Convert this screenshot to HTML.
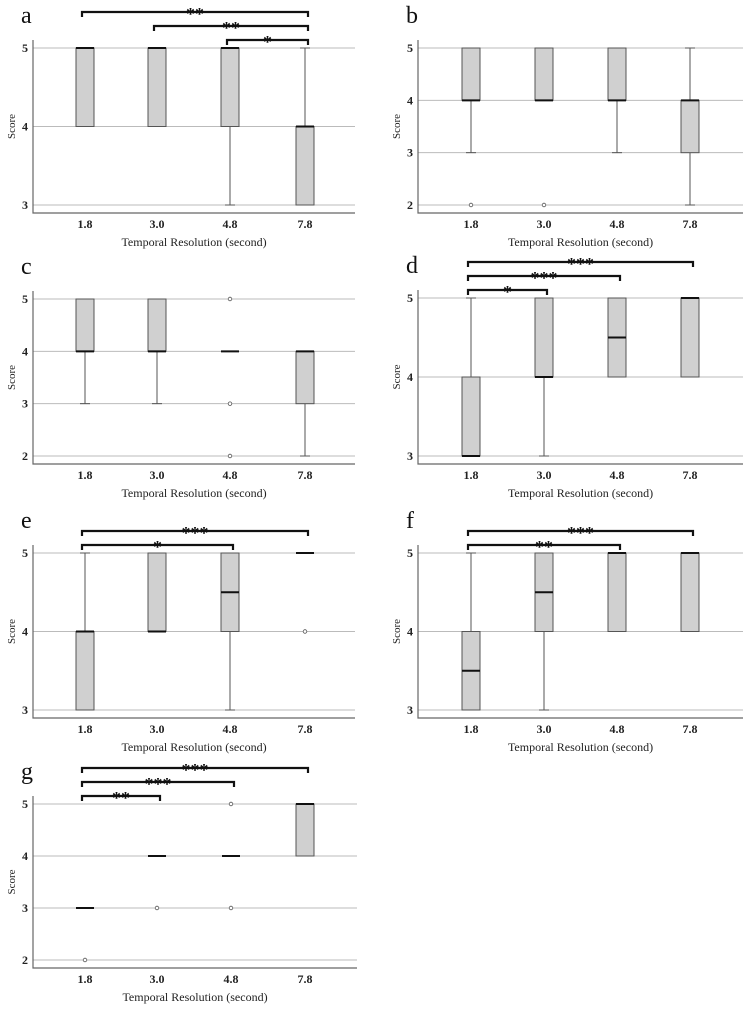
<!DOCTYPE html>
<html><head><meta charset="utf-8">
<style>
body{margin:0;background:#fff;}
svg{display:block;font-family:"Liberation Serif",serif;}
</style></head>
<body>
<svg id="chart" width="750" height="1013" viewBox="0 0 750 1013"></svg>
<script>
const categories = ["1.8","3.0","4.8","7.8"];
// each stat: [q1, median, q3, whiskerLow, whiskerHigh]
const statsA = [[4,5,5,4,5],[4,5,5,4,5],[4,5,5,3,5],[3,4,4,3,5]];
const statsB = [[4,4,5,3,5],[4,4,5,4,5],[4,4,5,3,5],[3,4,4,2,5]];
const statsC = [[4,4,5,3,5],[4,4,5,3,5],[4,4,4,4,4],[3,4,4,2,4]];
const statsD = [[3,3,4,3,5],[4,4,5,3,5],[4,4.5,5,4,5],[4,5,5,4,5]];
const statsE = [[3,4,4,3,5],[4,4,5,4,5],[4,4.5,5,3,5],[5,5,5,5,5]];
const statsF = [[3,3.5,4,3,5],[4,4.5,5,3,5],[4,5,5,4,5],[4,5,5,4,5]];
const statsG = [[3,3,3,3,3],[4,4,4,4,4],[4,4,4,4,4],[4,5,5,4,5]];
const outliersA = [[],[],[],[]];
const outliersB = [[2],[2],[],[]];
const outliersC = [[],[],[5,3,2],[]];
const outliersD = [[],[],[],[]];
const outliersE = [[],[],[],[4]];
const outliersF = [[],[],[],[]];
const outliersG = [[2],[3],[5,3],[]];
const sigA = [[0,3,"**"],[1,3,"**"],[2,3,"*"]];
const sigB = [];
const sigC = [];
const sigD = [[0,3,"***"],[0,2,"***"],[0,1,"*"]];
const sigE = [[0,3,"***"],[0,2,"*"]];
const sigF = [[0,3,"***"],[0,2,"**"]];
const sigG = [[0,3,"***"],[0,2,"***"],[0,1,"**"]];

const panels = [
 {id:"a",x0:33,x1:355,y5:48,yMin:205,vMin:3,stats:statsA,out:outliersA,sig:sigA,cx:[85,157,230,305]},
 {id:"b",x0:418,x1:743,y5:48,yMin:205,vMin:2,stats:statsB,out:outliersB,sig:sigB,cx:[471,544,617,690]},
 {id:"c",x0:33,x1:355,y5:299,yMin:456,vMin:2,stats:statsC,out:outliersC,sig:sigC,cx:[85,157,230,305]},
 {id:"d",x0:418,x1:743,y5:298,yMin:456,vMin:3,stats:statsD,out:outliersD,sig:sigD,cx:[471,544,617,690]},
 {id:"e",x0:33,x1:355,y5:553,yMin:710,vMin:3,stats:statsE,out:outliersE,sig:sigE,cx:[85,157,230,305]},
 {id:"f",x0:418,x1:743,y5:553,yMin:710,vMin:3,stats:statsF,out:outliersF,sig:sigF,cx:[471,544,617,690]},
 {id:"g",x0:33,x1:357,y5:804,yMin:960,vMin:2,stats:statsG,out:outliersG,sig:sigG,cx:[85,157,231,305]}
];
const NS="http://www.w3.org/2000/svg";
const svg=document.getElementById("chart");
function mk(tag,attrs,parent,text){const e=document.createElementNS(NS,tag);for(const k in attrs)e.setAttribute(k,attrs[k]);if(text!==undefined)e.textContent=text;parent.appendChild(e);return e;}

panels.forEach(p=>{
  const g=mk("g",{},svg);
  
  
  const yS=v=>p.yMin+(5-v)*0*0+ (p.y5-p.yMin)*(v-p.vMin)/(5-p.vMin);
  const axB=p.yMin+8;
  // gridlines & y ticks
  for(let v=p.vMin;v<=5;v++){
    const gl=mk("line",{x1:p.x0,x2:p.x1,y1:yS(v),y2:yS(v),stroke:"#bbb","stroke-width":1},g);
    
    
    const t=mk("text",{x:p.x0-5,y:yS(v)+4,"text-anchor":"end","font-size":12,"font-weight":"bold",fill:"#222"},g,String(v));
    
    
  }
  const ax=mk("path",{d:`M${p.x0},${p.y5-8}V${axB}H${p.x1}`,fill:"none",stroke:"#666","stroke-width":1.2},g);
  
  
  const yl=mk("text",{transform:`translate(${p.x0-18},${(p.y5+p.yMin)/2}) rotate(-90)`,"text-anchor":"middle","font-size":11,fill:"#222"},g,"Score");
  
  
  const xl=mk("text",{x:(p.x0+p.x1)/2,y:axB+33,"text-anchor":"middle","font-size":12,fill:"#222"},g,"Temporal Resolution (second)");
  
  
  const lt=mk("text",{x:p.x0-12,y:p.y5-25,"font-size":24,fill:"#111"},g,p.id);
  
  
  categories.forEach((c,i)=>{
    const cx=p.cx[i];
    const tl=mk("text",{x:cx,y:axB+15,"text-anchor":"middle","font-size":12,"font-weight":"bold",fill:"#222"},g,c);
    
    
    const [q1,med,q3,wl,wh]=p.stats[i];
    const w=mk("line",{x1:cx,x2:cx,y1:yS(wl),y2:yS(wh),stroke:"#555","stroke-width":1},g);
    
    
    [wl,wh].forEach(v=>{if(v<q1||v>q3){const cap=mk("line",{x1:cx-5,x2:cx+5,y1:yS(v),y2:yS(v),stroke:"#555","stroke-width":1},g);
      
      }});
    if(q3>q1){
      const b=mk("rect",{x:cx-9,y:yS(q3),width:18,height:yS(q1)-yS(q3),fill:"#d0d0d0",stroke:"#555","stroke-width":1},g);
      
      
    }
    const m=mk("line",{x1:cx-9,x2:cx+9,y1:yS(med),y2:yS(med),stroke:"#111","stroke-width":2},g);
    
    
    p.out[i].forEach(v=>{const o=mk("circle",{cx:cx,cy:yS(v),r:1.8,fill:"#fff",stroke:"#555","stroke-width":0.8},g);
      
      });
  });
  const n=p.sig.length;
  p.sig.forEach((s,k)=>{
    const lvl=n-1-k;
    const y=p.y5-8-lvl*14;
    const xa=p.cx[s[0]]-3,xb=p.cx[s[1]]+3;
    const br=mk("path",{d:`M${xa},${y+5}V${y}H${xb}V${y+5}`,fill:"none",stroke:"#111","stroke-width":2.2},g);
    
    
    const st=mk("text",{x:(xa+xb)/2,y:y+8,"text-anchor":"middle","font-size":18,"font-weight":"bold",fill:"#111"},g,s[2]);
    
    
  });
});
</script>
</body></html>
